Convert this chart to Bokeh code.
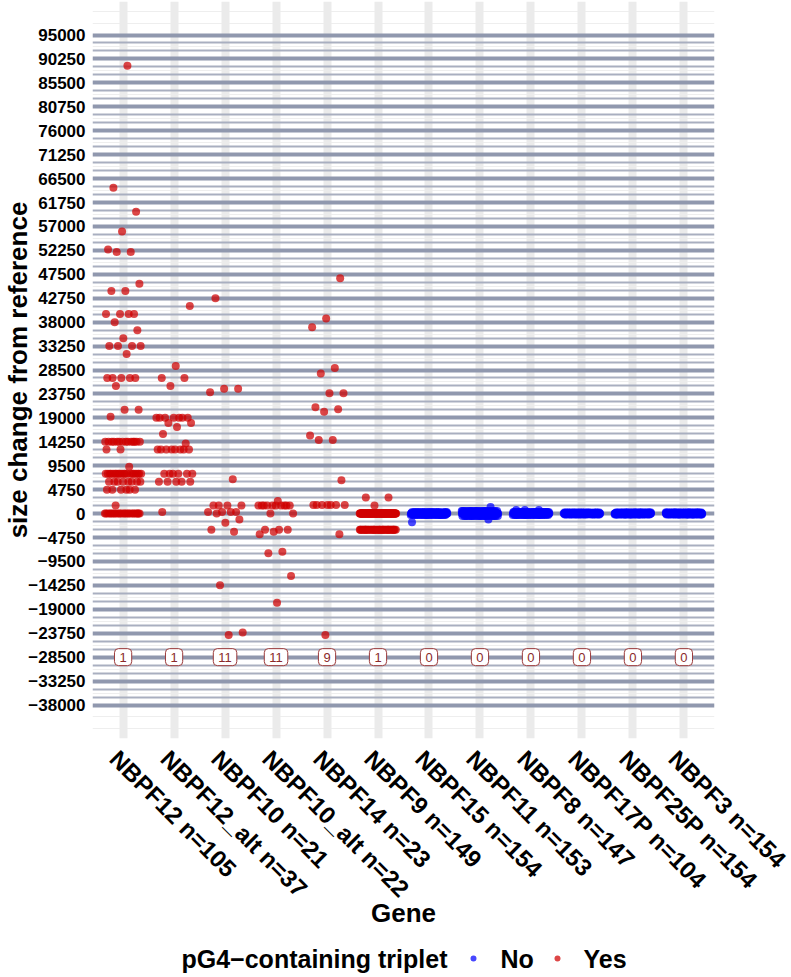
import math
import numpy as np
from bokeh.plotting import figure
from bokeh.layouts import column
from bokeh.models import (ColumnDataSource, FixedTicker, CustomJSTickFormatter, Range1d)
from bokeh.embed import file_html
from bokeh.resources import INLINE
from bokeh.core.properties import value

# ---------------- data ----------------
genes = ["NBPF12 n=105", "NBPF12_alt n=37", "NBPF10 n=21", "NBPF10_alt n=22",
         "NBPF14 n=23", "NBPF9 n=149", "NBPF15 n=154", "NBPF11 n=153",
         "NBPF8 n=147", "NBPF17P n=104", "NBPF25P n=154", "NBPF3 n=154"]
pg4_triplet = ["Yes", "Yes", "Yes", "Yes", "Yes", "Yes",
               "No", "No", "No", "No", "No", "No"]
box_labels = ["1", "1", "11", "11", "9", "1", "0", "0", "0", "0", "0", "0"]
legend_title = "pG4\u2212containing triplet"
legend_labels = ["No", "Yes"]

# size change from reference (bp) and number of samples at each value
nbpf12_vals = [88900, 64700, 59900, 56000, 52400, 51900, 45600, 44200, 39600, 38000,
               36400, 34800, 33250, 31700, 26900, 25300, 20600, 19200, 14250, 12700,
               9300, 7900, 6300, 4750, 1600, 0]
nbpf12_counts = [1, 1, 1, 1, 1, 2, 1, 2, 4, 1, 1, 1, 4, 1, 5, 1, 2, 1, 14, 2, 1, 20, 8, 6, 1, 22]

nbpf12alt_vals = [41200, 29300, 26900, 25300, 19000, 18000, 17200, 15800, 13900, 12700,
                  7900, 6300, 300]
nbpf12alt_counts = [1, 1, 2, 1, 7, 2, 1, 1, 1, 8, 6, 5, 1]

nbpf10_vals = [42750, 24800, 24100, 6800, 1600, 300, 0, -1200, -1800, -3200, -3600,
               -14250, -23600, -24100]
nbpf10_counts = [1, 2, 1, 1, 4, 4, 1, 1, 1, 1, 1, 1, 1, 1]

nbpf10alt_vals = [2500, 1600, 0, -3200, -3600, -4100, -7600, -7900, -12400, -17700]
nbpf10alt_counts = [1, 10, 2, 3, 1, 1, 1, 1, 1, 1]

nbpf14_vals = [46700, 38700, 37000, 28900, 27800, 23900, 21100, 20700, 20200, 15500,
               14600, 6600, 1700, -4100, -24100]
nbpf14_counts = [1, 1, 1, 1, 1, 2, 1, 1, 1, 1, 2, 1, 7, 1, 1]

nbpf9_vals = [3200, 1600, 0, -3200]
nbpf9_counts = [2, 1, 105, 41]

nbpf15_vals = [300, 0, -300, -1700]
nbpf15_counts = [20, 110, 23, 1]

nbpf11_vals = [1300, 500, 0, -500, -1200]
nbpf11_counts = [1, 25, 100, 26, 1]

nbpf8_vals = [700, 300, 0, -300]
nbpf8_counts = [3, 30, 90, 24]

nbpf17p_vals = [200, 0, -200]
nbpf17p_counts = [20, 64, 20]

nbpf25p_vals = [200, 0, -200]
nbpf25p_counts = [25, 104, 25]

nbpf3_vals = [200, 0, -200]
nbpf3_counts = [25, 104, 25]

all_vals = [nbpf12_vals, nbpf12alt_vals, nbpf10_vals, nbpf10alt_vals, nbpf14_vals,
            nbpf9_vals, nbpf15_vals, nbpf11_vals, nbpf8_vals, nbpf17p_vals,
            nbpf25p_vals, nbpf3_vals]
all_counts = [nbpf12_counts, nbpf12alt_counts, nbpf10_counts, nbpf10alt_counts,
              nbpf14_counts, nbpf9_counts, nbpf15_counts, nbpf11_counts, nbpf8_counts,
              nbpf17p_counts, nbpf25p_counts, nbpf3_counts]

y_ticks = [-38000 + 4750 * k for k in range(29)]

# ---------------- styling constants ----------------
RED = "#D00000"
BLUE = "#0000FF"
FONT = "Liberation Sans"
JITTER = 0.36
LABEL_SHIFT = 0.18   # moves rotated tick labels so their top corner sits at the gene

# expand points (deterministic low-discrepancy horizontal jitter)
groups = {"Yes": dict(x=[], y=[]), "No": dict(x=[], y=[])}
for gi, (vals, cnts) in enumerate(zip(all_vals, all_counts)):
    center = gi + 1
    j = 0
    g = groups[pg4_triplet[gi]]
    for v, c in zip(vals, cnts):
        for _ in range(c):
            j += 1
            off = (((j * 0.6180339887) + 0.31 * gi) % 1.0 - 0.5) * 2 * JITTER
            g["x"].append(center + off)
            g["y"].append(v)

# ---------------- main figure ----------------
W = 791
H1 = 935
FL, FR, FT = 92, 77, 1
FRAME_H = 737
FB = H1 - FT - FRAME_H
p = figure(width=W, height=H1, title=None,
           x_range=Range1d(0.4, 12.6), y_range=Range1d(-44650, 101650),
           output_backend="svg", toolbar_location=None,
           min_border_left=FL, min_border_right=FR, min_border_top=FT,
           min_border_bottom=FB, outline_line_color=None,
           background_fill_color="white", border_fill_color="white")

p.xgrid.visible = False
p.ygrid.ticker = FixedTicker(ticks=[2375 * k for k in range(-18, 43)])
p.ygrid.grid_line_color = "#EEEEEE"
p.ygrid.grid_line_width = 1

ya = p.yaxis[0]
ya.ticker = FixedTicker(ticks=y_ticks)
ya.formatter = CustomJSTickFormatter(
    code="return tick < 0 ? '\u2212' + Math.abs(tick) : String(tick);")
ya.axis_line_color = None
ya.major_tick_line_color = None
ya.minor_tick_line_color = None
ya.major_tick_out = 0
ya.major_tick_in = 0
ya.major_label_standoff = 7
ya.major_label_text_font = FONT
ya.major_label_text_font_style = "bold"
ya.major_label_text_font_size = "17px"
ya.major_label_text_color = "black"
ya.axis_label = "size change from reference"
ya.axis_label_text_font = FONT
ya.axis_label_text_font_style = "bold"
ya.axis_label_text_font_size = "26px"
ya.axis_label_text_color = "black"
ya.axis_label_standoff = -8

xa = p.xaxis[0]
xa.ticker = FixedTicker(ticks=[i - LABEL_SHIFT for i in range(1, 13)])
xa.formatter = CustomJSTickFormatter(args=dict(names=genes),
                                     code="return names[Math.round(tick) - 1] || '';")
xa.major_label_orientation = -math.pi / 4
xa.axis_line_color = None
xa.major_tick_line_color = None
xa.minor_tick_line_color = None
xa.major_tick_out = 0
xa.major_tick_in = 0
xa.major_label_standoff = 16
xa.major_label_text_font = FONT
xa.major_label_text_font_style = "bold"
xa.major_label_text_font_size = "24px"
xa.major_label_text_color = "black"
xa.axis_label = "Gene"
xa.axis_label_text_font = FONT
xa.axis_label_text_font_style = "bold"
xa.axis_label_text_font_size = "26px"
xa.axis_label_text_color = "black"
xa.axis_label_standoff = -17

# vertical light bands at each gene
p.vspan(x=list(range(1, 13)), line_width=8, line_color="#EBEBEB")

# reference lines every 4750/3, heavier every 4750
step = 4750 / 3
kk = np.arange(-24, 61)
thin = [float(k * step) for k in kk if k % 3 != 0]
thick = [float(k * step) for k in kk if k % 3 == 0]
p.hspan(y=thin, line_width=2, line_color="#A9AFC0")
p.hspan(y=thick, line_width=4, line_color="#9098AE")

# points
p.scatter(x=groups["Yes"]["x"], y=groups["Yes"]["y"], size=8, fill_color=RED,
          fill_alpha=0.72, line_color=None)
p.scatter(x=groups["No"]["x"], y=groups["No"]["y"], size=8, fill_color=BLUE,
          fill_alpha=0.72, line_color=None)

# boxed count labels
box_src = ColumnDataSource(dict(x=list(range(1, 13)), y=[-28500] * 12, t=box_labels))
p.text("x", "y", text="t", source=box_src, text_font=value(FONT), text_font_size="13px",
       text_color="#8B2A2A", text_align="center", text_baseline="middle",
       background_fill_color="white", border_line_color="#9B3A3A", border_line_width=1,
       padding=dict(left=5, right=5, top=4, bottom=4), border_radius=4)

# ---------------- legend strip (x range equals page pixels over the aligned frame) ----
H2 = 42
leg = figure(width=W, height=H2, title=None,
             x_range=Range1d(FL, W - FR), y_range=Range1d(H2, 0),
             output_backend="svg", toolbar_location=None,
             min_border_left=FL, min_border_right=FR, min_border_top=0, min_border_bottom=0,
             outline_line_color=None, background_fill_color="white",
             border_fill_color="white")
leg.xaxis.visible = False
leg.yaxis.visible = False
leg.xgrid.visible = False
leg.ygrid.visible = False
LY = 23
leg.text(x=[181], y=[LY], text=[legend_title], text_font=value(FONT),
         text_font_style="bold", text_font_size="25px", text_color="black",
         text_align="left", text_baseline="middle")
leg.scatter(x=[473, 557], y=[LY, LY], size=6, fill_color=[BLUE, RED], fill_alpha=0.72,
            line_color=None)
leg.text(x=[500, 583], y=[LY, LY], text=legend_labels, text_font=value(FONT),
         text_font_style="bold", text_font_size="25px", text_color="black",
         text_align="left", text_baseline="middle")

layout = column(p, leg, spacing=0)
open("out.html", "w").write(file_html(layout, INLINE))
